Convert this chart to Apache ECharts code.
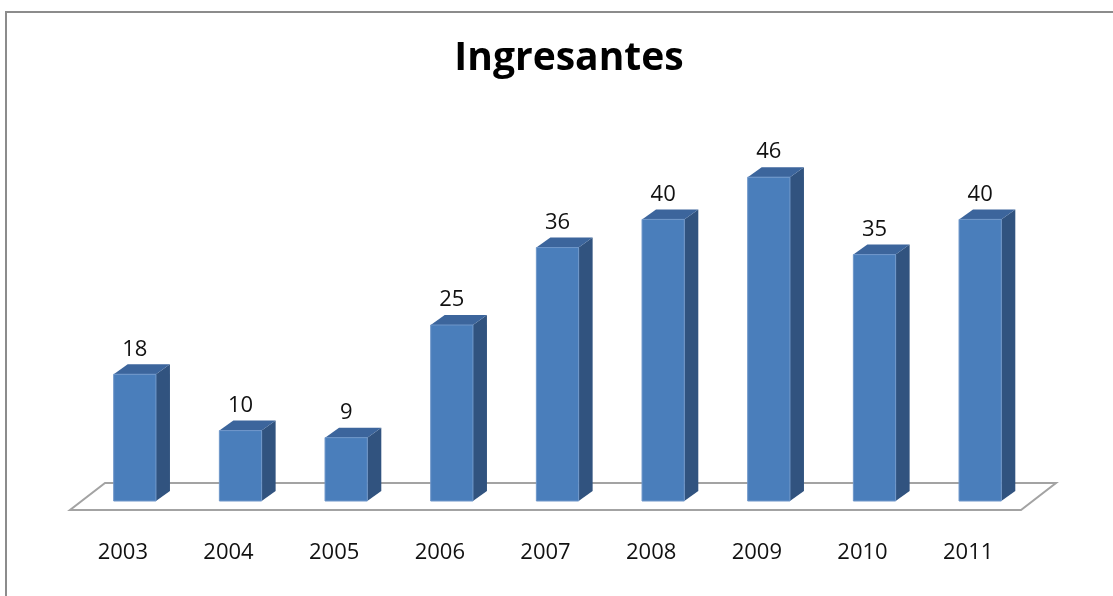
<!DOCTYPE html>
<html>
<head>
<meta charset="utf-8">
<script src="https://cdn.jsdelivr.net/npm/echarts@6/dist/echarts.min.js"></script>
<style>
html, body { margin: 0; padding: 0; background: #fff; }
#chart { width: 1113px; height: 596px; }
</style>
</head>
<body>
<div id="chart"></div>
<script>
var years = ['2003', '2004', '2005', '2006', '2007', '2008', '2009', '2010', '2011'];
var ingresantes = [18, 10, 9, 25, 36, 40, 46, 35, 40];

var myChart = echarts.init(document.getElementById('chart'));

// 3D look: bars sit a bit behind the front edge of the floor
var barShift = [12, -9];
var depth = [14, -10];
var floorDepth = [35, -27];

function renderBar(params, api) {
    var base = api.coord([api.value(0), 0]);
    var top = api.coord([api.value(0), api.value(1)]);
    var bw = api.size([1, 0])[0] * 0.4;
    var l = base[0] + barShift[0] - bw / 2, r = l + bw;
    var b = base[1] + barShift[1], t = top[1] + barShift[1];
    return {
        type: 'group',
        children: [
            {
                type: 'polygon',
                shape: { points: [[r, t], [r + depth[0], t + depth[1]], [r + depth[0], b + depth[1]], [r, b]] },
                style: { fill: '#31537f' }
            },
            {
                type: 'polygon',
                shape: { points: [[l, t], [l + depth[0], t + depth[1]], [r + depth[0], t + depth[1]], [r, t]] },
                style: { fill: '#3c659c' }
            },
            {
                type: 'rect',
                shape: { x: l, y: t, width: bw, height: b - t },
                style: { fill: '#4a7ebb', stroke: '#6e96c9', lineWidth: 1 }
            },
            {
                type: 'text',
                style: {
                    text: String(api.value(1)),
                    x: (l + r) / 2,
                    y: t - 25,
                    align: 'center',
                    verticalAlign: 'middle',
                    font: '22px "Open Sans"',
                    fill: '#111'
                }
            }
        ]
    };
}

function renderFloor(params, api) {
    var cs = params.coordSys;
    var y = cs.y + cs.height;
    return {
        type: 'polygon',
        shape: {
            points: [
                [cs.x, y],
                [cs.x + cs.width, y],
                [cs.x + cs.width + floorDepth[0], y + floorDepth[1]],
                [cs.x + floorDepth[0], y + floorDepth[1]]
            ]
        },
        style: { fill: '#fff', stroke: '#a3a3a3', lineWidth: 2 }
    };
}

option = {
    backgroundColor: '#fff',
    animation: false,
    title: {
        text: 'Ingresantes',
        left: 564,
        top: 34,
        textAlign: 'center',
        textStyle: {
            fontFamily: 'Open Sans',
            fontSize: 39,
            fontWeight: 'bold',
            color: '#000'
        }
    },
    graphic: [
        {
            type: 'rect',
            shape: { x: 6, y: 12, width: 1300, height: 800 },
            style: { fill: 'none', stroke: '#8c8c8c', lineWidth: 2 },
            silent: true
        }
    ],
    grid: { left: 70, right: 92, top: 158, bottom: 86 },
    xAxis: {
        type: 'category',
        data: years,
        axisLine: { show: false },
        axisTick: { show: false },
        axisLabel: {
            margin: 32,
            fontFamily: 'Open Sans',
            fontSize: 22,
            color: '#111'
        }
    },
    yAxis: {
        type: 'value',
        min: 0,
        max: 50,
        show: false,
        splitLine: { show: false }
    },
    series: [
        {
            name: 'floor',
            type: 'custom',
            renderItem: renderFloor,
            data: [[years[0], 0]],
            z: 1,
            silent: true
        },
        {
            name: 'Ingresantes',
            type: 'custom',
            renderItem: renderBar,
            data: years.map(function (y, i) { return [y, ingresantes[i]]; }),
            z: 2
        }
    ]
};

myChart.setOption(option);
</script>
</body>
</html>
